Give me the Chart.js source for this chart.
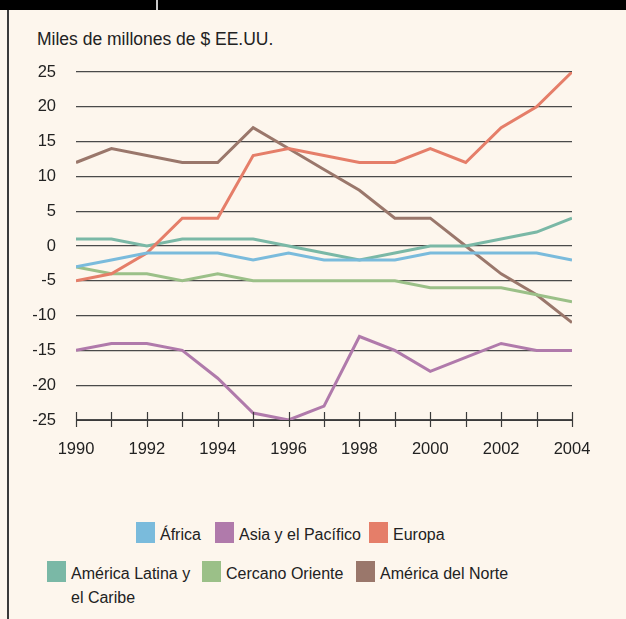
<!DOCTYPE html>
<html>
<head>
<meta charset="utf-8">
<script src="https://cdn.jsdelivr.net/npm/chart.js@4.4.1/dist/chart.umd.min.js"></script>
<style>
  html, body { margin: 0; padding: 0; }
  body { width: 626px; height: 619px; background: #fdf6ed; position: relative; overflow: hidden;
         font-family: "Liberation Sans", Arial, sans-serif; color: #222; }
  #topBar { position: absolute; left: 0; top: 0; width: 626px; height: 10px; background: #000; }
  #topGap { position: absolute; left: 156px; top: 0; width: 2px; height: 10px; background: #c8c8c8; }
  #leftBar { position: absolute; left: 7px; top: 10px; width: 2px; height: 609px; background: #3a3a3a; }
  #title { position: absolute; left: 37px; top: 29px; font-size: 17.5px; }
  #chartBox { position: absolute; left: 0; top: 0; width: 626px; height: 480px; }
  .item { position: absolute; font-size: 16px; line-height: 24px; }
  .box { position: absolute; width: 19px; height: 21px; }
</style>
</head>
<body>
<div id="topBar"></div>
<div id="topGap"></div>
<div id="leftBar"></div>
<div id="title">Miles de millones de $ EE.UU.</div>
<div id="chartBox"><canvas id="tradeChart"></canvas></div>
<div id="legend"></div>

<script>
let years = [1990, 1991, 1992, 1993, 1994, 1995, 1996, 1997, 1998, 1999, 2000, 2001, 2002, 2003, 2004];
let yTicks = [25, 20, 15, 10, 5, 0, -5, -10, -15, -20, -25];

let africa      = [-3, -2, -1, -1, -1, -2, -1, -2, -2, -2, -1, -1, -1, -1, -2];
let asiaPacific = [-15, -14, -14, -15, -19, -24, -25, -23, -13, -15, -18, -16, -14, -15, -15];
let europe      = [-5, -4, -1, 4, 4, 13, 14, 13, 12, 12, 14, 12, 17, 20, 25];
let latinAm     = [1, 1, 0, 1, 1, 1, 0, -1, -2, -1, 0, 0, 1, 2, 4];
let nearEast    = [-3, -4, -4, -5, -4, -5, -5, -5, -5, -5, -6, -6, -6, -7, -8];
let northAm     = [12, 14, 13, 12, 12, 17, 14, 11, 8, 4, 4, 0, -4, -7, -11];

let seriesNames  = ["África", "Asia y el Pacífico", "Europa", "América Latina y\nel Caribe", "Cercano Oriente", "América del Norte"];
let seriesColors = ["#7abbdc", "#b07aab", "#e57e69", "#7ab8a6", "#9bc088", "#9a776b"];
let seriesData   = [africa, asiaPacific, europe, latinAm, nearEast, northAm];

// legend positions (box left, box top) copied from the reference layout
let legendPos = [[136, 522], [215, 522], [369, 522], [47, 561], [202, 561], [356, 561]];

function buildDatasets() {
  let sets = [];
  for (let i = 0; i < seriesData.length; i++) {
    sets.push({
      label: seriesNames[i],
      data: seriesData[i].map((v, j) => ({ x: years[j], y: v })),
      borderColor: seriesColors[i],
      backgroundColor: seriesColors[i],
      borderWidth: 3,
      pointRadius: 0,
      tension: 0,
      fill: false
    });
  }
  return sets;
}

// tick marks crossing the bottom axis
let axisTicks = {
  id: 'axisTicks',
  afterDraw(chart) {
    let ctx = chart.ctx;
    let xs = chart.scales.x;
    let bottom = chart.chartArea.bottom;
    ctx.save();
    ctx.strokeStyle = '#3a3a3a';
    ctx.lineWidth = 1.2;
    ctx.beginPath();
    for (let i = 0; i < years.length; i++) {
      let px = Math.round(xs.getPixelForValue(years[i])) + 0.5;
      ctx.moveTo(px, bottom - 8);
      ctx.lineTo(px, bottom + 7);
    }
    ctx.moveTo(chart.chartArea.left, bottom + 0.5);
    ctx.lineTo(chart.chartArea.right, bottom + 0.5);
    ctx.stroke();
    ctx.restore();
  }
};

function drawLegend() {
  let legend = document.getElementById('legend');
  for (let i = 0; i < seriesNames.length; i++) {
    let [bx, by] = legendPos[i];
    legend.innerHTML += `
      <div class="box" style="left:${bx}px;top:${by}px;background:${seriesColors[i]}"></div>
      <div class="item" style="left:${bx + 24}px;top:${by + 1}px">${seriesNames[i].replace('\n', '<br>')}</div>
    `;
  }
}

window.onload = function () {
  drawLegend();

  new Chart("tradeChart", {
    type: "line",
    data: { datasets: buildDatasets() },
    options: {
      responsive: true,
      maintainAspectRatio: false,
      animation: false,
      events: [],
      layout: { padding: { left: 0, right: 54, top: 72, bottom: 0 } },
      plugins: { legend: { display: false }, tooltip: { enabled: false } },
      scales: {
        x: {
          type: 'linear',
          min: 1990,
          max: 2004,
          afterBuildTicks: scale => { scale.ticks = years.filter(y => y % 2 == 0).map(v => ({ value: v })); },
          afterFit: scale => { scale.height = 60; },
          grid: { display: false },
          border: { display: false },
          ticks: {
            color: '#222',
            font: { family: 'Liberation Sans', size: 16.5 },
            padding: 12,
            callback: v => String(v)
          }
        },
        y: {
          min: -25,
          max: 25,
          afterBuildTicks: scale => { scale.ticks = yTicks.map(v => ({ value: v })); },
          afterFit: scale => { scale.width = 76; },
          grid: { color: '#4a4a4a', lineWidth: 1.3, drawTicks: false },
          border: { display: false },
          ticks: {
            color: '#222',
            font: { family: 'Liberation Sans', size: 16.5 },
            padding: 20
          }
        }
      }
    },
    plugins: [axisTicks]
  });
};
</script>
</body>
</html>
